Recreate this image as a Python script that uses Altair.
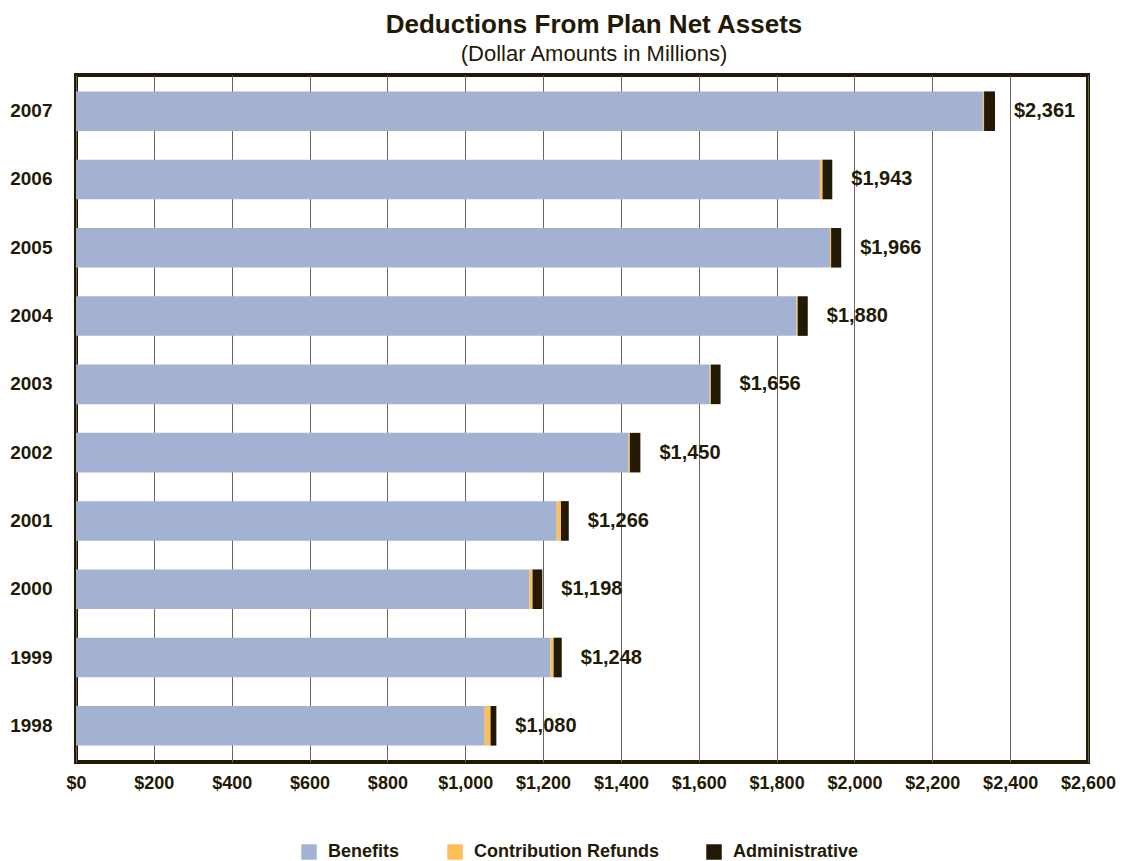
import altair as alt
import pandas as pd

years = ["2007", "2006", "2005", "2004", "2003", "2002", "2001", "2000", "1999", "1998"]
totals = [2361, 1943, 1966, 1880, 1656, 1450, 1266, 1198, 1248, 1080]
refunds = [3, 7, 3, 3, 3, 3, 11, 8, 8, 15]
admin = [28, 25, 26, 26, 25, 27, 20, 25, 21, 15]
benefits = [t - r - a for t, r, a in zip(totals, refunds, admin)]
categories = ["Benefits", "Contribution Refunds", "Administrative"]
colors = ["#a3b1d3", "#fdbf57", "#231a06"]
x_ticks = list(range(0, 2601, 200))

rows = []
for i, y in enumerate(years):
    for k, (cat, vals) in enumerate(zip(categories, [benefits, refunds, admin])):
        rows.append({"year": y, "category": cat, "value": vals[i], "ord": k})
df = pd.DataFrame(rows)
tot_df = pd.DataFrame({"year": years, "total": totals,
                       "label": ["$" + format(t, ",") for t in totals]})

FONT = "Liberation Sans"
DARK = "#231a06"

y_enc = alt.Y("year:N", sort=years, title=None,
              scale=alt.Scale(paddingInner=0.42, paddingOuter=0.24),
              axis=alt.Axis(labelFont=FONT, labelFontSize=19, labelFontWeight="bold",
                            labelColor=DARK, ticks=False, domain=False, labelPadding=24))

bars = alt.Chart(df).mark_bar().encode(
    x=alt.X("value:Q", stack="zero", title=None,
            scale=alt.Scale(domain=[0, 2600], nice=False),
            axis=alt.Axis(values=x_ticks, labelExpr="'$' + format(datum.value, ',')",
                          labelFont=FONT, labelFontSize=18, labelFontWeight="bold",
                          labelColor=DARK, ticks=False, domain=False, labelPadding=12,
                          labelOverlap=False, labelBound=False, labelFlush=False,
                          grid=True, gridColor="#6b6458", gridWidth=1)),
    y=y_enc,
    color=alt.Color("category:N", sort=categories,
                    scale=alt.Scale(domain=categories, range=colors),
                    legend=alt.Legend(title=None, orient="none", direction="horizontal",
                                      legendX=224, legendY=768,
                                      symbolType="square", symbolSize=240,
                                      symbolStrokeWidth=0, labelLimit=400,
                                      labelFont=FONT, labelFontSize=18, labelFontWeight="bold",
                                      labelColor=DARK, columnPadding=46, labelOffset=10)),
    order=alt.Order("ord:Q"),
)

labels = alt.Chart(tot_df).mark_text(align="left", dx=19, font=FONT, fontSize=20,
                                     fontWeight="bold", color=DARK).encode(
    x=alt.X("total:Q"),
    y=alt.Y("year:N", sort=years),
    text="label:N",
)

chart = alt.layer(bars, labels).properties(
    width=1012, height=687,
    autosize=alt.AutoSizeParams(type="none"),
    padding={"left": 68, "top": 67, "right": 34, "bottom": 99},
    title=alt.TitleParams("Deductions From Plan Net Assets",
                          subtitle="(Dollar Amounts in Millions)",
                          font=FONT, fontSize=26, fontWeight="bold", color=DARK,
                          subtitleFont=FONT, subtitleFontSize=22, subtitleColor=DARK,
                          subtitlePadding=6, anchor="middle", offset=10, dx=12),
).configure_view(stroke=DARK, strokeWidth=4)

chart.save("out.html", embed_options={"renderer": "svg", "actions": False})
